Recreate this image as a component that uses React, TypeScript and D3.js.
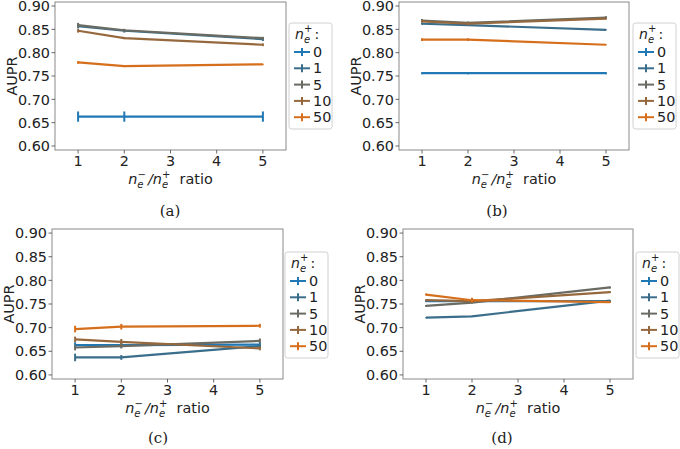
import React from "react";
import * as d3 from "d3";

const ratios = [1, 2, 5];
const xTicks = [1, 2, 3, 4, 5];
const yTicks = [0.6, 0.65, 0.7, 0.75, 0.8, 0.85, 0.9];
const seriesLabels = ["0", "1", "5", "10", "50"];
const seriesColors = ["#2078b4", "#3a6e8b", "#6a6b62", "#95683d", "#d66f1c"];
const panelLabels = ["(a)", "(b)", "(c)", "(d)"];

// values per series (0,1,5,10,50) at ratios 1,2,5
const panelAValues = [
  [0.663, 0.663, 0.663],
  [0.857, 0.847, 0.829],
  [0.859, 0.848, 0.831],
  [0.847, 0.831, 0.817],
  [0.779, 0.771, 0.775],
];
const panelAErrors = [
  [0.011, 0.011, 0.011],
  [0.005, 0.004, 0.004],
  [0.005, 0.003, 0.003],
  [0.004, 0.002, 0.003],
  [0.003, 0.002, 0.001],
];
const panelBValues = [
  [0.756, 0.756, 0.756],
  [0.862, 0.859, 0.849],
  [0.869, 0.864, 0.875],
  [0.867, 0.862, 0.873],
  [0.828, 0.828, 0.817],
];
const panelBErrors = [
  [0.002, 0.002, 0.002],
  [0.002, 0.002, 0.001],
  [0.003, 0.003, 0.003],
  [0.003, 0.003, 0.002],
  [0.003, 0.003, 0.001],
];
const panelCValues = [
  [0.663, 0.663, 0.664],
  [0.637, 0.637, 0.661],
  [0.658, 0.661, 0.672],
  [0.675, 0.670, 0.656],
  [0.697, 0.702, 0.704],
];
const panelCErrors = [
  [0.006, 0.005, 0.006],
  [0.008, 0.005, 0.004],
  [0.006, 0.005, 0.005],
  [0.006, 0.006, 0.004],
  [0.007, 0.006, 0.004],
];
const panelDValues = [
  [0.756, 0.756, 0.756],
  [0.721, 0.724, 0.757],
  [0.746, 0.753, 0.785],
  [0.758, 0.756, 0.775],
  [0.770, 0.758, 0.754],
];
const panelDErrors = [
  [0.002, 0.002, 0.002],
  [0.001, 0.001, 0.001],
  [0.002, 0.002, 0.002],
  [0.002, 0.002, 0.002],
  [0.002, 0.005, 0.002],
];

const FONT = "DejaVu Sans, sans-serif";

type PanelProps = {
  left: number;
  right: number;
  top: number;
  bottom: number;
  legendX: number;
  legendY: number;
  captionX: number;
  captionY: number;
  caption: string;
  values: number[][];
  errors: number[][];
};

function Panel(p: PanelProps) {
  const x = d3.scaleLinear().domain([0.5, 5.5]).range([p.left, p.right]);
  const y = d3.scaleLinear().domain([0.5914, 0.9086]).range([p.bottom, p.top]);
  const line = d3
    .line<[number, number]>()
    .x((d) => x(d[0]))
    .y((d) => y(d[1]));
  const cx = (p.left + p.right) / 2;
  const cy = (p.top + p.bottom) / 2;
  const spine = "#8a8a8a";
  return (
    <g>
      <rect
        x={p.left}
        y={p.top}
        width={p.right - p.left}
        height={p.bottom - p.top}
        fill="white"
        stroke={spine}
        strokeWidth={1}
      />
      {yTicks.map((t) => (
        <g key={"y" + t}>
          <line x1={p.left - 3.5} x2={p.left} y1={y(t)} y2={y(t)} stroke="#444" strokeWidth={0.8} />
          <text
            x={p.left - 5}
            y={y(t)}
            dy="0.36em"
            textAnchor="end"
            fontSize={14.4}
            fontFamily={FONT}
            fill="#222"
          >
            {t.toFixed(2)}
          </text>
        </g>
      ))}
      {xTicks.map((t) => (
        <g key={"x" + t}>
          <line x1={x(t)} x2={x(t)} y1={p.bottom} y2={p.bottom + 3.5} stroke="#444" strokeWidth={0.8} />
          <text
            x={x(t)}
            y={p.bottom + 16}
            textAnchor="middle"
            fontSize={14.4}
            fontFamily={FONT}
            fill="#222"
          >
            {t}
          </text>
        </g>
      ))}
      <text
        transform={`translate(${p.left - 43},${cy}) rotate(-90)`}
        textAnchor="middle"
        dy="0.36em"
        fontSize={14.4}
        fontFamily={FONT}
        fill="#222"
      >
        AUPR
      </text>
      <text
        x={cx}
        y={p.bottom + 34}
        textAnchor="middle"
        fontSize={14.4}
        fontFamily={FONT}
        fill="#222"
      >
        <tspan fontStyle="italic">n</tspan>
        <tspan dy={4} fontSize={10} fontStyle="italic">e</tspan>
        <tspan dx={-6} dy={-10} fontSize={10}>−</tspan>
        <tspan dy={6} dx={2} fontStyle="italic">/</tspan>
        <tspan fontStyle="italic">n</tspan>
        <tspan dy={4} fontSize={10} fontStyle="italic">e</tspan>
        <tspan dx={-6} dy={-10} fontSize={10}>+</tspan>
        <tspan dy={6}>{"\u00a0 ratio"}</tspan>
      </text>
      {p.values.map((vals, si) => {
        const pts: [number, number][] = ratios.map((r, i) => [r, vals[i]]);
        return (
          <g key={"s" + si}>
            <path
              d={line(pts) || ""}
              fill="none"
              stroke={seriesColors[si]}
              strokeWidth={2.2}
              strokeLinejoin="round"
            />
            {ratios.map((r, i) => (
              <line
                key={i}
                x1={x(r)}
                x2={x(r)}
                y1={y(vals[i] - p.errors[si][i])}
                y2={y(vals[i] + p.errors[si][i])}
                stroke={seriesColors[si]}
                strokeWidth={2}
              />
            ))}
          </g>
        );
      })}
      <rect
        x={p.legendX}
        y={p.legendY}
        width={43}
        height={106}
        rx={2.5}
        fill="white"
        stroke="#d0d0d0"
        strokeWidth={1}
      />
      <text
        x={p.legendX + 6}
        y={p.legendY + 16}
        fontSize={14}
        fontFamily={FONT}
        fill="#222"
      >
        <tspan fontStyle="italic">n</tspan>
        <tspan dy={4} fontSize={10} fontStyle="italic">e</tspan>
        <tspan dx={-6} dy={-11} fontSize={10}>+</tspan>
        <tspan dy={7} dx={2}>:</tspan>
      </text>
      {seriesLabels.map((lab, i) => {
        const ly = p.legendY + 29 + i * 16.3;
        return (
          <g key={"l" + lab}>
            <line x1={p.legendX + 5} x2={p.legendX + 21} y1={ly} y2={ly} stroke={seriesColors[i]} strokeWidth={2} />
            <line x1={p.legendX + 13} x2={p.legendX + 13} y1={ly - 4} y2={ly + 4} stroke={seriesColors[i]} strokeWidth={2} />
            <text
              x={p.legendX + 24}
              y={ly}
              dy="0.36em"
              fontSize={14.4}
              fontFamily={FONT}
              fill="#222"
            >
              {lab}
            </text>
          </g>
        );
      })}
      <text
        x={p.captionX}
        y={p.captionY}
        textAnchor="middle"
        fontSize={15}
        fontFamily="'DejaVu Serif', serif"
        fill="#222"
      >
        {p.caption}
      </text>
    </g>
  );
}

export default function App() {
  return (
    <svg
      width={680}
      height={449}
      style={{ position: "absolute", left: 0, top: 0, background: "white" }}
    >
      <rect x={0} y={0} width={680} height={449} fill="white" />
      <Panel left={55} right={286} top={2} bottom={150} legendX={289} legendY={23}
        captionX={170} captionY={216} caption={panelLabels[0]}
        values={panelAValues} errors={panelAErrors} />
      <Panel left={399} right={629} top={2} bottom={150} legendX={633} legendY={23}
        captionX={497} captionY={216} caption={panelLabels[1]}
        values={panelBValues} errors={panelBErrors} />
      <Panel left={52} right={283} top={229} bottom={379} legendX={285} legendY={252}
        captionX={158} captionY={443} caption={panelLabels[2]}
        values={panelCValues} errors={panelCErrors} />
      <Panel left={403} right={633} top={229} bottom={379} legendX={636} legendY={252}
        captionX={502} captionY={443} caption={panelLabels[3]}
        values={panelDValues} errors={panelDErrors} />
    </svg>
  );
}
